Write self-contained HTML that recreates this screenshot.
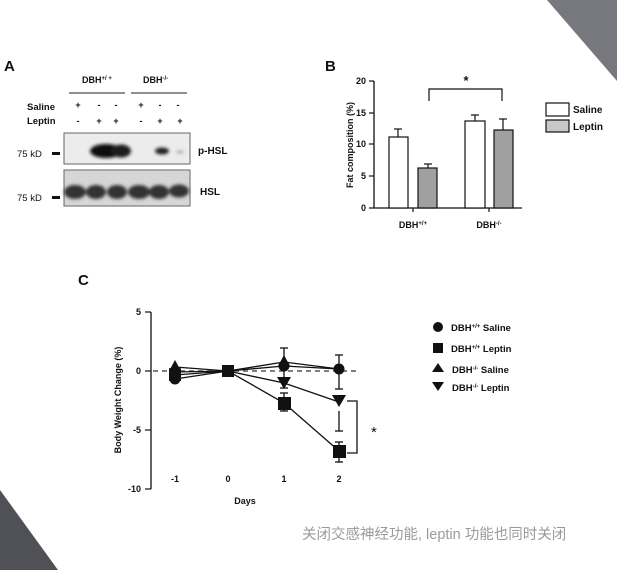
<!DOCTYPE html>
<html><head><meta charset="utf-8"><style>
html,body{margin:0;padding:0;background:#fff}
svg{display:block}
text{font-family:"Liberation Sans",Arial,sans-serif;font-weight:bold;fill:#111}
text.n{font-weight:normal}
</style></head><body>
<svg width="617" height="570" viewBox="0 0 617 570" xmlns="http://www.w3.org/2000/svg">
<defs>
<filter id="bl" x="-20%" y="-50%" width="140%" height="200%"><feGaussianBlur stdDeviation="1.6"/></filter>
</defs>
<rect width="617" height="570" fill="#fff"/>
<polygon points="547,0 617,0 617,81" fill="#77787d"/>
<polygon points="0,490 0,570 58,570" fill="#505156"/>

<!-- Panel A -->
<text x="4" y="71" font-size="15">A</text>
<text x="82" y="83" font-size="9">DBH<tspan font-size="6" dy="-3">+/ +</tspan></text>
<text x="143" y="83" font-size="9">DBH<tspan font-size="6" dy="-3">-/-</tspan></text>
<line x1="69" y1="93" x2="125" y2="93" stroke="#222" stroke-width="1"/>
<line x1="131" y1="93" x2="187" y2="93" stroke="#222" stroke-width="1"/>
<text x="27" y="110" font-size="9.5">Saline</text>
<text x="27" y="124" font-size="9.5">Leptin</text>
<g font-size="9" text-anchor="middle">
<text x="78" y="108">+</text><text x="99" y="108">-</text><text x="116" y="108">-</text>
<text x="141" y="108">+</text><text x="160" y="108">-</text><text x="178" y="108">-</text>
<text x="78" y="124">-</text><text x="99" y="124">+</text><text x="116" y="124">+</text>
<text x="141" y="124">-</text><text x="160" y="124">+</text><text x="180" y="124">+</text>
</g>
<rect x="64" y="133" width="126" height="31" fill="#ececec" stroke="#666" stroke-width="1"/>
<g filter="url(#bl)">
<ellipse cx="106" cy="151" rx="16" ry="7" fill="#111"/>
<ellipse cx="121" cy="151" rx="10" ry="6.5" fill="#1a1a1a"/>
<ellipse cx="162" cy="151" rx="7" ry="3.5" fill="#222"/>
<ellipse cx="180" cy="152" rx="4" ry="2" fill="#bbb"/>
</g>
<rect x="64" y="170" width="126" height="36" fill="#d6d6d6" stroke="#666" stroke-width="1"/>
<g filter="url(#bl)" fill="#333">
<ellipse cx="75" cy="192" rx="11" ry="7"/>
<ellipse cx="96" cy="192" rx="10" ry="7"/>
<ellipse cx="117" cy="192" rx="10" ry="7"/>
<ellipse cx="139" cy="192" rx="11" ry="7"/>
<ellipse cx="159" cy="192" rx="10" ry="7"/>
<ellipse cx="179" cy="191" rx="10" ry="6.5"/>
</g>
<text class="n" x="17" y="157" font-size="9.5">75 kD</text>
<rect x="52" y="152" width="8" height="3" fill="#111"/>
<text class="n" x="17" y="201" font-size="9.5">75 kD</text>
<rect x="52" y="196" width="8" height="3" fill="#111"/>
<text x="198" y="154" font-size="10">p-HSL</text>
<text x="200" y="195" font-size="10">HSL</text>

<!-- Panel B -->
<text x="325" y="71" font-size="15">B</text>
<line x1="374" y1="81" x2="374" y2="208" stroke="#111" stroke-width="1.3"/>
<line x1="374" y1="208" x2="522" y2="208" stroke="#111" stroke-width="1.3"/>
<g stroke="#111" stroke-width="1.2">
<line x1="369" y1="81" x2="374" y2="81"/><line x1="369" y1="113" x2="374" y2="113"/>
<line x1="369" y1="144" x2="374" y2="144"/><line x1="369" y1="176" x2="374" y2="176"/>
<line x1="369" y1="208" x2="374" y2="208"/>
<line x1="413" y1="208" x2="413" y2="212"/><line x1="489" y1="208" x2="489" y2="212"/>
</g>
<g font-size="9" text-anchor="end">
<text x="366" y="84">20</text><text x="366" y="116">15</text><text x="366" y="147">10</text>
<text x="366" y="179">5</text><text x="366" y="211">0</text>
</g>
<text transform="translate(353,145) rotate(-90)" font-size="9" text-anchor="middle">Fat composition (%)</text>
<g stroke="#111" stroke-width="1.2">
<line x1="398" y1="137" x2="398" y2="129"/><line x1="394" y1="129" x2="402" y2="129"/>
<line x1="428" y1="168" x2="428" y2="164"/><line x1="424" y1="164" x2="432" y2="164"/>
<line x1="475" y1="121" x2="475" y2="115"/><line x1="471" y1="115" x2="479" y2="115"/>
<line x1="503" y1="130" x2="503" y2="119"/><line x1="499" y1="119" x2="507" y2="119"/>
</g>
<rect x="389" y="137" width="19" height="71" fill="#fff" stroke="#111" stroke-width="1.2"/>
<rect x="418" y="168" width="19" height="40" fill="#a0a0a0" stroke="#111" stroke-width="1.2"/>
<rect x="465" y="121" width="20" height="87" fill="#fff" stroke="#111" stroke-width="1.2"/>
<rect x="494" y="130" width="19" height="78" fill="#a0a0a0" stroke="#111" stroke-width="1.2"/>
<polyline points="429,101 429,89 502,89 502,101" fill="none" stroke="#111" stroke-width="1.2"/>
<text x="466" y="85" font-size="13" text-anchor="middle">*</text>
<text x="413" y="228" font-size="9" text-anchor="middle">DBH<tspan font-size="6" dy="-3">+/+</tspan></text>
<text x="489" y="228" font-size="9" text-anchor="middle">DBH<tspan font-size="6" dy="-3">-/-</tspan></text>
<rect x="546" y="103" width="23" height="13" fill="#fff" stroke="#111" stroke-width="1.2"/>
<rect x="546" y="120" width="23" height="12" fill="#c8c8c8" stroke="#111" stroke-width="1.2"/>
<text x="573" y="113" font-size="10">Saline</text>
<text x="573" y="130" font-size="10">Leptin</text>

<!-- Panel C -->
<text x="78" y="285" font-size="15">C</text>
<line x1="151" y1="312" x2="151" y2="489" stroke="#111" stroke-width="1.3"/>
<g stroke="#111" stroke-width="1.2">
<line x1="145" y1="312" x2="151" y2="312"/><line x1="145" y1="371" x2="151" y2="371"/>
<line x1="145" y1="430" x2="151" y2="430"/><line x1="145" y1="489" x2="151" y2="489"/>
</g>
<g font-size="9" text-anchor="end">
<text x="141" y="315">5</text><text x="141" y="374">0</text><text x="141" y="433">-5</text><text x="141" y="492">-10</text>
</g>
<text transform="translate(121,400) rotate(-90)" font-size="9" text-anchor="middle">Body Weight Change (%)</text>
<g font-size="9" text-anchor="middle">
<text x="175" y="482">-1</text><text x="228" y="482">0</text><text x="284" y="482">1</text><text x="339" y="482">2</text>
</g>
<text x="245" y="504" font-size="9" text-anchor="middle">Days</text>
<line x1="153" y1="371" x2="358" y2="371" stroke="#333" stroke-width="1.3" stroke-dasharray="5,4"/>
<g stroke="#111" stroke-width="1.3" fill="none">
<line x1="284" y1="348" x2="284" y2="377"/><line x1="280" y1="348" x2="288" y2="348"/>
<line x1="339" y1="355" x2="339" y2="389"/><line x1="335" y1="355" x2="343" y2="355"/><line x1="335" y1="389" x2="343" y2="389"/>
<line x1="284" y1="393" x2="284" y2="411"/><line x1="280" y1="393" x2="288" y2="393"/><line x1="280" y1="411" x2="288" y2="411"/>
<line x1="339" y1="411" x2="339" y2="431"/><line x1="335" y1="431" x2="343" y2="431"/>
<line x1="284" y1="378" x2="284" y2="388"/><line x1="280" y1="388" x2="288" y2="388"/>
<line x1="339" y1="442" x2="339" y2="462"/><line x1="335" y1="442" x2="343" y2="442"/><line x1="335" y1="462" x2="343" y2="462"/>
<polyline points="175,379 228,371 284,366 339,369"/>
<polyline points="175,375 228,371 284,403 339,451"/>
<polyline points="175,367 228,371 284,362 339,369"/>
<polyline points="175,372 228,371 284,383 339,402"/>
<polyline points="347,401 357,401 357,453 347,453"/>
</g>
<g fill="#111">
<circle cx="175" cy="379" r="5.5"/><circle cx="284" cy="366" r="5.5"/><circle cx="339" cy="369" r="5.5"/>
<rect x="169" y="369" width="12" height="12"/><rect x="222" y="365" width="12" height="12"/>
<rect x="278" y="397" width="13" height="13"/><rect x="333" y="445" width="13" height="13"/>
<polygon points="175,360 181,371 169,371"/><polygon points="284,355 290,366 278,366"/>
<polygon points="169,368 181,368 175,378"/><polygon points="277,377 291,377 284,389"/><polygon points="332,395 346,395 339,407"/>
</g>
<text class="n" x="371" y="437" font-size="15">*</text>
<circle cx="438" cy="327" r="5" fill="#111"/>
<rect x="433" y="343" width="10" height="10" fill="#111"/>
<polygon points="438,363 444,372 432,372" fill="#111"/>
<polygon points="432,382 444,382 438,391" fill="#111"/>
<g font-size="9.5">
<text x="451" y="331">DBH<tspan font-size="6" dy="-3">+/+</tspan><tspan dy="3"> Saline</tspan></text>
<text x="451" y="352">DBH<tspan font-size="6" dy="-3">+/+</tspan><tspan dy="3"> Leptin</tspan></text>
<text x="452" y="373">DBH<tspan font-size="6" dy="-3">-/-</tspan><tspan dy="3">  Saline</tspan></text>
<text x="452" y="391">DBH<tspan font-size="6" dy="-3">-/-</tspan><tspan dy="3">  Leptin</tspan></text>
</g>
<text class="n" x="302" y="539" font-size="14.5" style="fill:#9a9a9a;font-family:'Liberation Sans','Noto Sans CJK SC',sans-serif">关闭交感神经功能, leptin 功能也同时关闭</text>
</svg>
</body></html>
